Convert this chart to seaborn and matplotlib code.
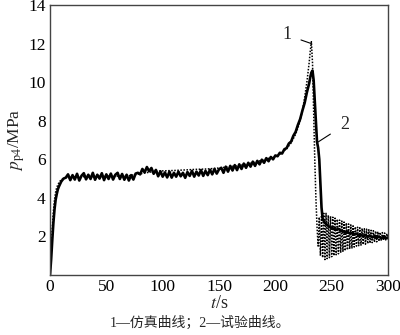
import matplotlib
matplotlib.use("Agg")
import matplotlib.pyplot as plt
import seaborn as sns
import pandas as pd

# Simulation curve (1)
sim_t = [0, 1, 2, 3, 4, 5, 6, 8, 10, 15, 20, 30, 40, 50, 60, 70, 80, 90, 100, 110,
         120, 130, 140, 150, 160, 170, 180, 190, 200, 205, 210, 214, 218, 221, 224,
         226, 228, 230, 231, 232, 233, 234, 235, 236, 237, 238,
         239, 240, 241, 242, 243, 244, 245, 246, 247, 248, 249, 250, 251, 252, 253,
         254, 255, 256, 257, 258, 259, 260, 261, 262, 263, 264, 265, 266, 267, 268,
         269, 270, 271, 272, 273, 274, 275, 276, 277, 278, 279, 280, 281, 282, 283,
         284, 285, 286, 287, 288, 289, 290, 291, 292, 293, 294, 295, 296, 297, 298,
         299, 300]
sim_p = [0.0, 1.2, 2.4, 3.3, 3.9, 4.3, 4.55, 4.8, 4.95, 5.05, 5.08, 5.1, 5.1, 5.12,
         5.13, 5.15, 5.25, 5.35, 5.4, 5.42, 5.45, 5.48, 5.5, 5.55, 5.62, 5.7, 5.82,
         5.98, 6.15, 6.3, 6.55, 6.85, 7.3, 7.8, 8.5, 9.2, 10.0, 11.0, 11.6, 12.1,
         11.0, 8.5, 6.0, 4.0, 2.5, 1.5,
         3.0, 1.0, 3.1, 0.9, 3.2, 0.8, 3.2, 0.85, 3.1, 0.9, 3.05, 0.95, 3.0, 1.0,
         2.95, 1.05, 2.9, 1.1, 2.85, 1.15, 2.8, 1.2, 2.75, 1.25, 2.7, 1.3, 2.65,
         1.35, 2.6, 1.4, 2.55, 1.45, 2.5, 1.5, 2.48, 1.52, 2.45, 1.55, 2.42, 1.58,
         2.4, 1.6, 2.38, 1.62, 2.35, 1.65, 2.32, 1.68, 2.3, 1.7, 2.28, 1.72, 2.25,
         1.75, 2.22, 1.78, 2.2, 1.8, 2.18, 1.82, 2.15, 1.85]

# Test curve (2)
exp_t = ([0, 1, 2, 3, 4, 5, 6, 7, 8, 10, 12, 14]
         + list(range(16, 231, 2))
         + [231, 232, 233, 234, 235, 236, 237, 238, 239, 240, 241, 242]
         + list(range(244, 301, 2)))
exp_p = [0.0, 0.8, 1.8, 2.7, 3.4, 3.9, 4.2, 4.45, 4.6, 4.85, 5.0, 5.05,
         # 16 .. 76
         5.22, 4.92, 5.18, 4.95, 5.25, 4.9, 5.15, 5.28, 4.96, 5.2, 4.98, 5.3, 4.94,
         5.2, 5.0, 5.28, 4.92, 5.22, 4.98, 5.26, 4.95, 5.2, 5.3, 4.98, 5.24, 4.94,
         5.2, 4.9, 5.18, 4.95, 5.26,
         # 78 .. 150
         5.3, 5.22, 5.5, 5.32, 5.6, 5.38, 5.55, 5.25, 5.45, 5.12, 5.38, 5.1, 5.32,
         5.06, 5.36, 5.05, 5.3, 5.1, 5.36, 5.12, 5.3, 5.04, 5.34, 5.14, 5.4, 5.1,
         5.36, 5.16, 5.44, 5.14, 5.4, 5.18, 5.46, 5.22, 5.5, 5.26, 5.48,
         # 152 .. 230
         5.56, 5.3, 5.62, 5.36, 5.66, 5.42, 5.7, 5.44, 5.74, 5.5, 5.78, 5.56, 5.82,
         5.62, 5.88, 5.66, 5.92, 5.74, 5.98, 5.82, 6.06, 5.9, 6.12, 6.0, 6.2, 6.16,
         6.34, 6.3, 6.52, 6.58, 6.82, 6.92, 7.22, 7.42, 7.78, 8.08, 8.52, 8.92, 9.47,
         9.93,
         # 231 .. 242
         10.25, 10.5, 10.6, 10.1, 9.0, 7.8, 6.9, 6.6, 6.0, 4.8, 3.5, 2.9,
         # 244 .. 300
         2.7, 2.6, 2.5, 2.45, 2.4, 2.35, 2.4, 2.3, 2.28, 2.2, 2.25, 2.15, 2.18, 2.1,
         2.15, 2.05, 2.1, 2.0, 2.08, 1.98, 2.05, 1.95, 2.02, 1.92, 2.0, 1.9, 1.98,
         1.9, 1.95]

x_ticks = [0, 50, 100, 150, 200, 250, 300]
y_ticks = [2, 4, 6, 8, 10, 12, 14]

sns.set_theme(style="white")
plt.rcParams["font.family"] = ["Liberation Serif", "Noto Sans CJK SC"]
plt.rcParams["mathtext.fontset"] = "stix"

fig = plt.figure(figsize=(4.0, 3.35), dpi=100)
ax = fig.add_axes([0.125, 0.179, 0.845, 0.806])

sim = pd.DataFrame({"t": sim_t, "p": sim_p})
exp = pd.DataFrame({"t": exp_t, "p": exp_p})
sns.lineplot(data=exp, x="t", y="p", ax=ax, color="black", lw=1.9, sort=False)
sns.lineplot(data=sim, x="t", y="p", ax=ax, color="black", lw=1.1,
             linestyle=(0, (1, 1)), sort=False)

ax.set_xlim(0, 300)
ax.set_ylim(0, 14)
ax.set_xticks(x_ticks)
ax.set_yticks(y_ticks)
ax.tick_params(direction="in", length=4, width=0.8, labelsize=12.5,
               colors="black", pad=3)
for s in ax.spines.values():
    s.set_color("#444444")
    s.set_linewidth(1.0)

ax.set_xlabel(r"$t$/s", fontsize=13, labelpad=0)
ax.set_ylabel(r"$p_{\mathrm{p4}}$/MPa", fontsize=12.5, labelpad=1)

ax.annotate("1", xy=(232, 12.0), xytext=(210, 12.45), fontsize=13,
            ha="center", va="center",
            arrowprops=dict(arrowstyle="-", color="black", lw=0.8,
                            shrinkA=5, shrinkB=0))
ax.annotate("2", xy=(238, 6.9), xytext=(262, 7.8), fontsize=13,
            ha="center", va="center",
            arrowprops=dict(arrowstyle="-", color="black", lw=0.8,
                            shrinkA=6, shrinkB=0))

fig.text(0.5, 0.036, "1—仿真曲线；2—试验曲线。", ha="center", va="center",
         fontsize=10)

fig.savefig("out.png", dpi=100, facecolor="white")
